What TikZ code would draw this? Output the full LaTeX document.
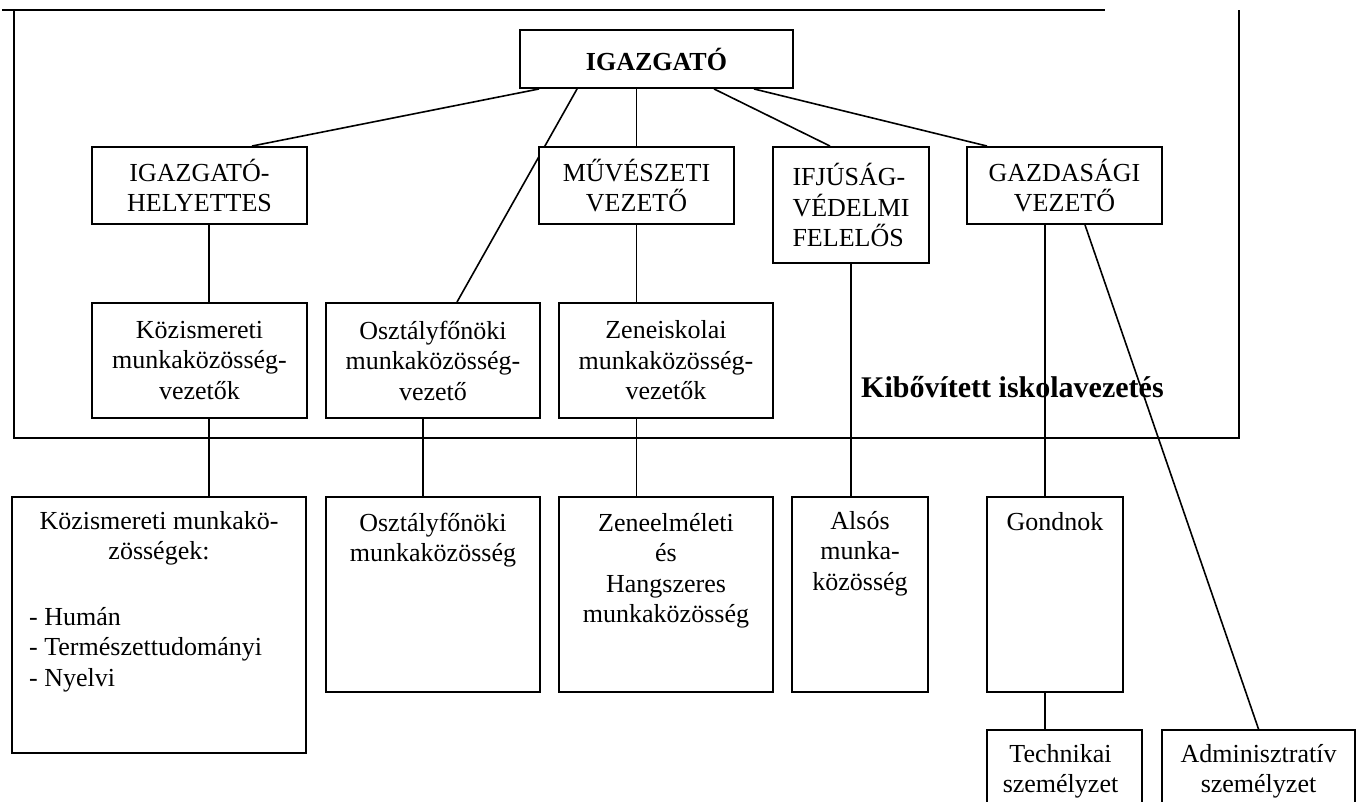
\documentclass[tikz,border=0pt]{standalone}
\usepackage{fontspec}
\setmainfont{Liberation Serif}
\usetikzlibrary{backgrounds}
\newcommand\fsreg{\fontsize{26}{30.5}\selectfont}
\newcommand\fsbig{\fontsize{30}{34}\selectfont\bfseries}
\newcommand\pbc[2]{\parbox[t]{#1}{\centering #2}}
\newcommand\pbl[2]{\parbox[t]{#1}{\raggedright #2}}
\tikzset{
  box/.style={draw, line width=1.9pt, fill=white, inner sep=0pt, align=center, font=\fsreg},
  txt/.style={inner sep=0pt, font=\fsreg, anchor=base},
  link/.style={line width=1.6pt},
  frame/.style={line width=1.9pt}
}
\begin{document}
\begin{tikzpicture}[x=1pt,y=-1pt]
\useasboundingbox (0,0) rectangle (1359,802);
\clip (0,0) rectangle (1359,802);
% frame
\coordinate (fa) at (2,10);
\coordinate (fb) at (1105,10);
\coordinate (fc) at (14,10);
\coordinate (fd) at (14,438);
\coordinate (fe) at (1239,438);
\coordinate (ff) at (1239,10);
\draw[frame] (fa) -- (fb);
\draw[frame] (fc) -- (fd) -- (fe) -- (ff);
\node[inner sep=0pt, font=\fsbig, anchor=base west] (kib) at (861,397) {Kibővített iskolavezetés};
% boxes
\node[box, minimum width=273pt, minimum height=58pt, font=\fontsize{26}{30.5}\selectfont\bfseries] (igaz) at (656.5,59) {IGAZGATÓ};
\node[box, minimum width=215pt, minimum height=77pt] (hely) at (199.5,185.5) {IGAZGATÓ-\\HELYETTES};
\node[box, minimum width=195pt, minimum height=77pt] (muv) at (636.5,185.5) {MŰVÉSZETI\\VEZETŐ};
\node[box, minimum width=156pt, minimum height=116pt, align=left] (ifju) at (851,205) {IFJÚSÁG-\\VÉDELMI\\FELELŐS};
\node[box, minimum width=195pt, minimum height=77pt] (gazd) at (1064.5,185.5) {GAZDASÁGI\\VEZETŐ};
\node[box, minimum width=215pt, minimum height=115pt] (kozv) at (199.5,360.5) {Közismereti\\munkaközösség-\\vezetők};
\node[box, minimum width=214pt, minimum height=115pt] (osztv) at (433,360.5) {Osztályfőnöki\\munkaközösség-\\vezető};
\node[box, minimum width=214pt, minimum height=115pt] (zenev) at (666,360.5) {Zeneiskolai\\munkaközösség-\\vezetők};
\node[box, minimum width=294pt, minimum height=256pt] (kozm) at (159,625) {};
\node[box, minimum width=214pt, minimum height=195pt] (osztm) at (433,594.5) {};
\node[box, minimum width=214pt, minimum height=195pt] (zenem) at (666,594.5) {};
\node[box, minimum width=136pt, minimum height=195pt] (also) at (860,594.5) {};
\node[box, minimum width=136pt, minimum height=195pt] (gond) at (1055,594.5) {};
\node[box, minimum width=155pt, minimum height=100pt] (tech) at (1064.5,780) {};
\node[box, minimum width=193pt, minimum height=100pt] (admin) at (1258.5,780) {};
% texts in tall boxes
\node[txt] (t1) at ([yshift=-33pt]kozm.north) {\pbc{280pt}{Közismereti munkakö-\\zösségek:}};
\node[txt, anchor=base west] (t2) at (29,625) {\pbl{270pt}{- Humán\\- Természettudományi\\- Nyelvi}};
\node[txt] (t3) at ([yshift=-35pt]osztm.north) {\pbc{210pt}{Osztályfőnöki\\munkaközösség}};
\node[txt] (t4) at ([yshift=-35pt]zenem.north) {\pbc{210pt}{Zeneelméleti\\és\\Hangszeres\\munkaközösség}};
\node[txt] (t5) at ([yshift=-33pt]also.north) {\pbc{134pt}{Alsós\\munka-\\közösség}};
\node[txt] (t6) at ([yshift=-34pt]gond.north) {Gondnok};
\node[txt] (t7) at ([yshift=-33pt,xshift=-4pt]tech.north) {\pbc{150pt}{Technikai\\személyzet}};
\node[txt] (t8) at ([yshift=-33pt]admin.north) {\pbc{190pt}{Adminisztratív\\személyzet}};
% connectors (behind the boxes)
\begin{scope}[on background layer]
\draw[link] ([xshift=20pt]igaz.south west) -- ([xshift=52.5pt]hely.north);
\draw[link] ([xshift=58pt]igaz.south west) -- ([xshift=24pt]osztv.north);
\draw[link] (muv.north |- igaz.south) -- (muv.north);
\draw[link] ([xshift=195pt]igaz.south west) -- ([xshift=-21pt]ifju.north);
\draw[link] ([xshift=-40pt]igaz.south east) -- ([xshift=-77.5pt]gazd.north);
\draw[link] ([xshift=9.5pt]hely.south) -- ([xshift=9.5pt]kozv.north);
\draw[link] ([xshift=9.5pt]kozv.south) -- ([xshift=50pt]kozm.north);
\draw[link] (muv.south) -- ([xshift=-29.5pt]zenev.north);
\draw[link] ([xshift=-29.5pt]zenev.south) -- ([xshift=-29.5pt]zenem.north);
\draw[link] ([xshift=-10pt]osztv.south) -- ([xshift=-10pt]osztm.north);
\draw[link] (ifju.south) -- ([xshift=-9pt]also.north);
\draw[link] ([xshift=-19.5pt]gazd.south) -- ([xshift=-10pt]gond.north);
\draw[link] ([xshift=-10pt]gond.south) -- ([xshift=-19.5pt]tech.north);
\end{scope}
\draw[link] ([xshift=20.5pt]gazd.south) -- (admin.north);
\end{tikzpicture}
\end{document}
